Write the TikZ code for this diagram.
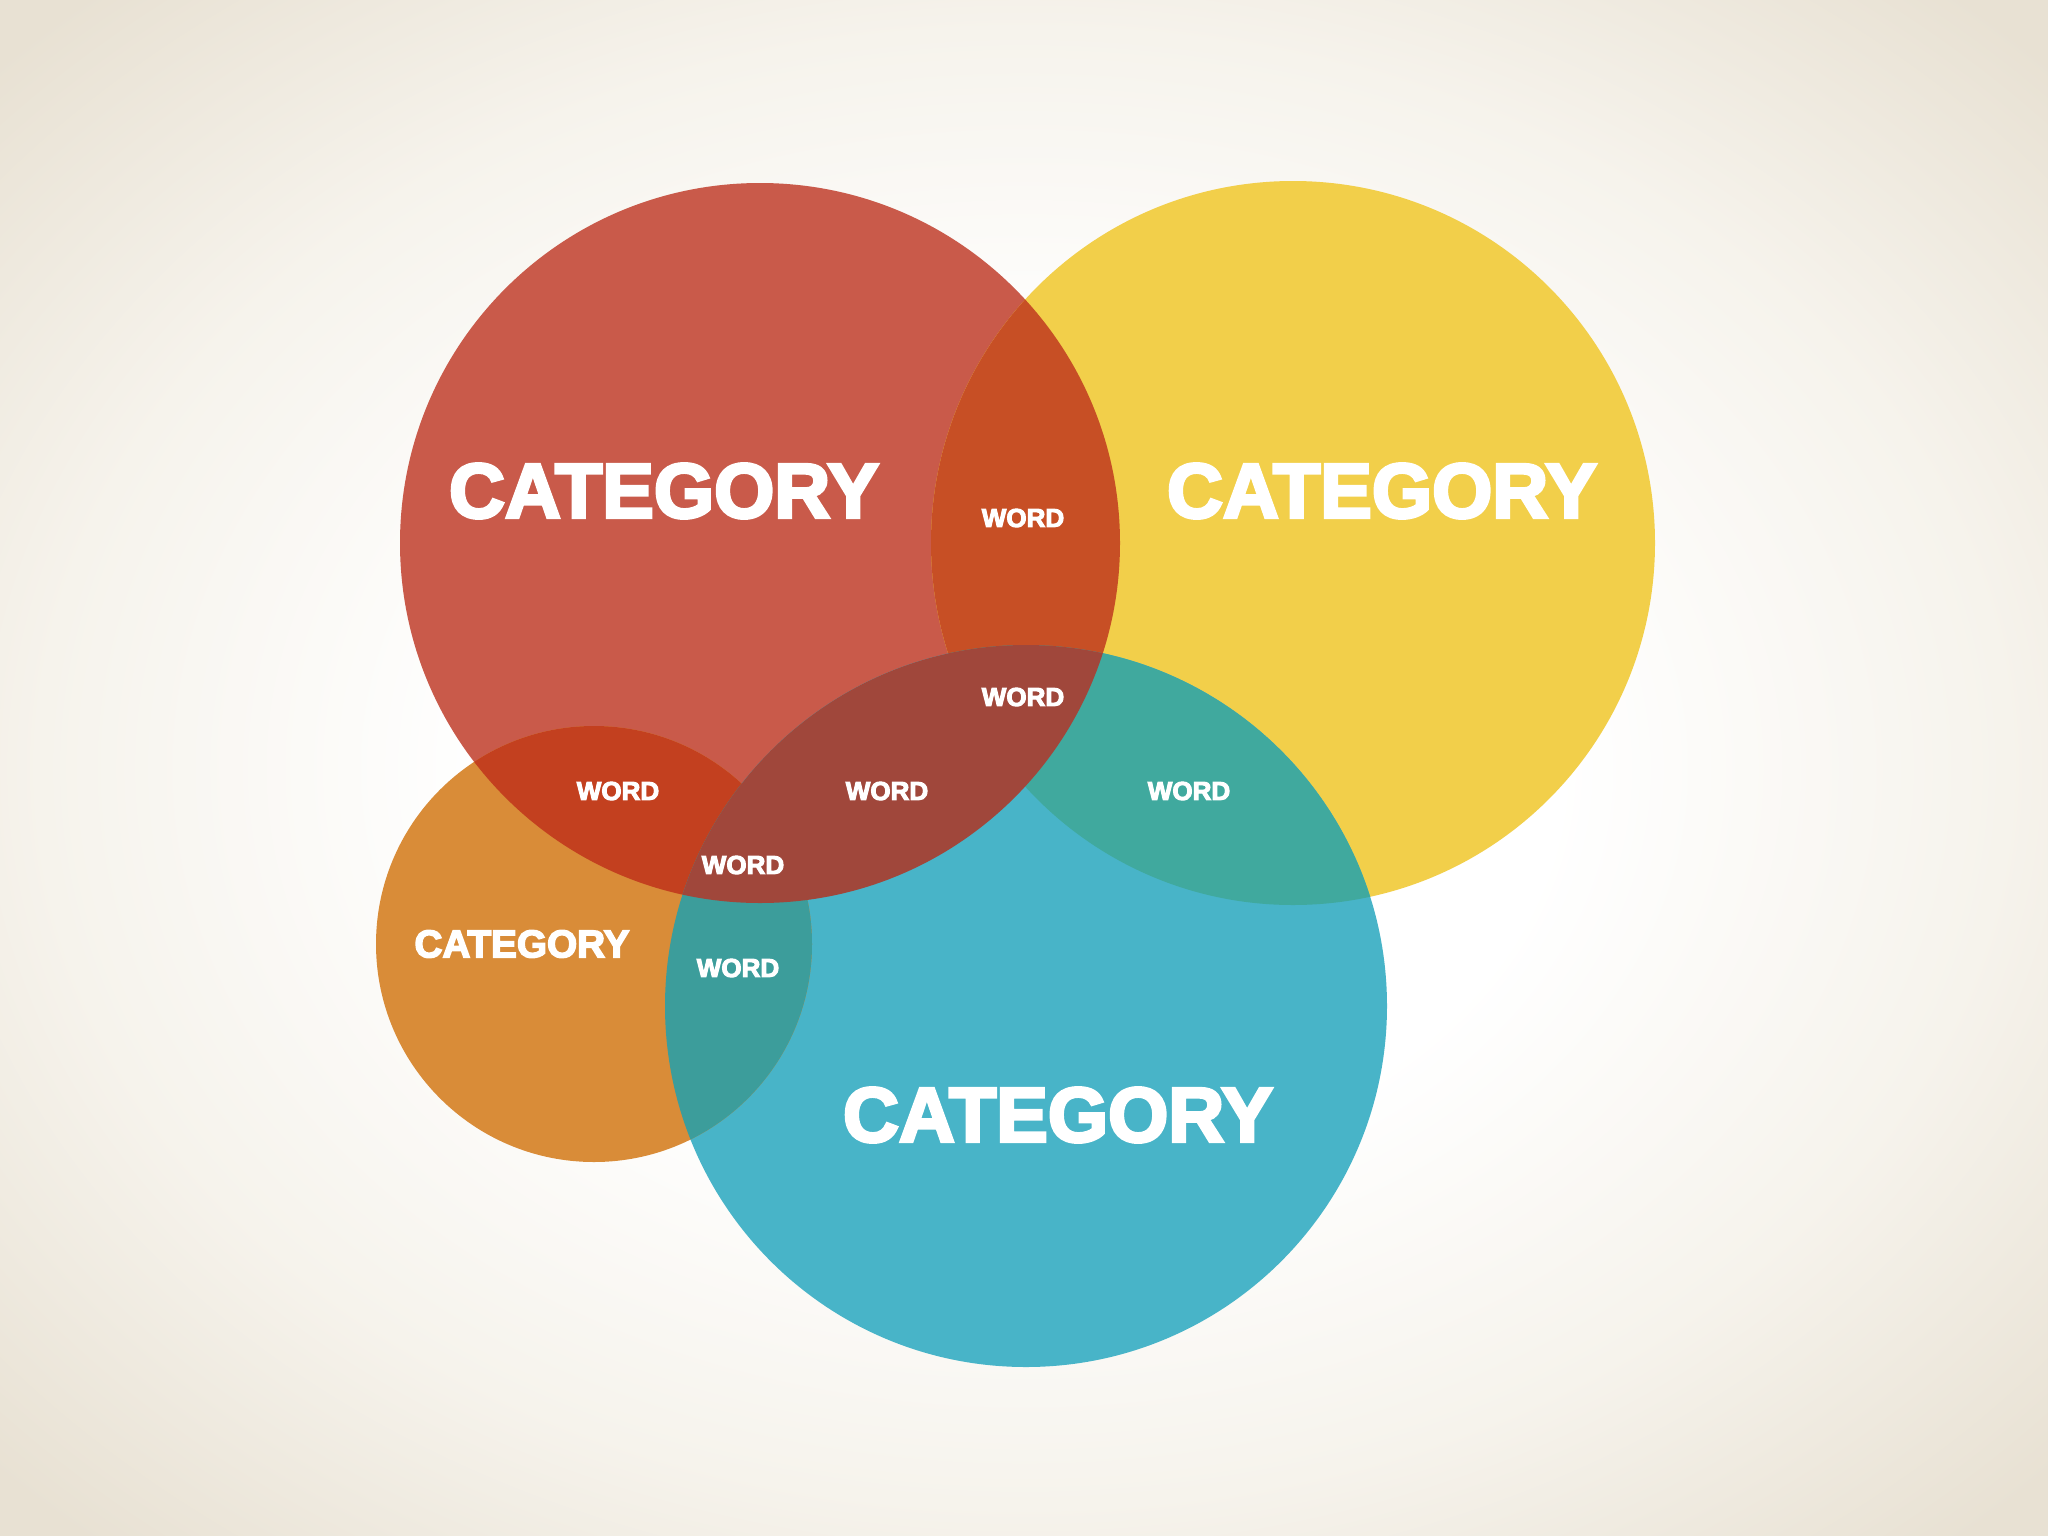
\documentclass[tikz,border=0pt]{standalone}
\usepackage{fontspec}
\usepackage{xcolor}
\usepackage{tikz}
\usetikzlibrary{positioning}
\newfontfamily\catfont[FakeBold=4]{Liberation Sans Bold}

\definecolor{vennred}{HTML}{C95A4A}
\definecolor{vennyellow}{HTML}{F2CF4A}
\definecolor{vennblue}{HTML}{48B4C8}
\definecolor{vennorange}{HTML}{D98C38}
\definecolor{redyellow}{HTML}{C74F25}
\definecolor{redblue}{HTML}{A0473B}
\definecolor{yellowblue}{HTML}{40A99E}
\definecolor{orangered}{HTML}{C3401F}
\definecolor{orangeblue}{HTML}{3C9D9B}
\definecolor{bgmid}{HTML}{F6F3EC}
\definecolor{bgedge}{HTML}{E8E1D3}
\pgfdeclareradialshading{vignette}{\pgfpoint{0bp}{0bp}}{color(0bp)=(white); color(13bp)=(white); color(24bp)=(bgmid); color(34bp)=(bgedge); color(50bp)=(bgedge)}

\newcommand\redpath{(760,543) circle (360)}
\newcommand\yellowpath{(1293,543) circle (362)}
\newcommand\bluepath{(1026,1006) circle (361)}
\newcommand\orangepath{(594,944) circle (218)}

\begin{document}
\begin{tikzpicture}[x=0.01cm, y=-0.01cm,
    catbig/.style={text=white, inner sep=0pt, font=\catfont\fontsize{22}{22}\selectfont},
    catsmall/.style={text=white, inner sep=0pt, font=\catfont\fontsize{11}{11}\selectfont},
    word/.style={text=white, inner sep=0pt, font=\catfont\fontsize{7.4}{7.4}\selectfont}]
    % Background
    \shade[shading=vignette] (0,0) rectangle (2048,1536);

    % Circles
    \fill[vennred] \redpath;
    \fill[vennyellow] \yellowpath;
    \fill[vennblue] \bluepath;
    \fill[vennorange] \orangepath;

    % Overlaps
    \begin{scope}
        \clip \redpath;
        \fill[redyellow] \yellowpath;
    \end{scope}
    \begin{scope}
        \clip \orangepath;
        \fill[orangered] \redpath;
    \end{scope}
    \begin{scope}
        \clip \yellowpath;
        \fill[yellowblue] \bluepath;
    \end{scope}
    \begin{scope}
        \clip \orangepath;
        \fill[orangeblue] \bluepath;
    \end{scope}
    \begin{scope}
        \clip \redpath;
        \fill[redblue] \bluepath;
    \end{scope}

    % Labels
    \node[catbig] (redcat) at (664,491) {CATEGORY};
    \node[catbig] (yellowcat) at (1382,491) {CATEGORY};
    \node[catbig] (bluecat) at (1058,1115) {CATEGORY};
    \node[catsmall] (orangecat) at (522,944) {CATEGORY};

    \node[word] (ry) at (1023,518) {WORD};
    \node[word] (ryb) at (1023,697) {WORD};
    \node[word] (ro) at (618,791) {WORD};
    \node[word] (rb) at (887,791) {WORD};
    \node[word] (yb) at (1189,791) {WORD};
    \node[word] (rob) at (743,865) {WORD};
    \node[word] (ob) at (738,968) {WORD};
\end{tikzpicture}
\end{document}
